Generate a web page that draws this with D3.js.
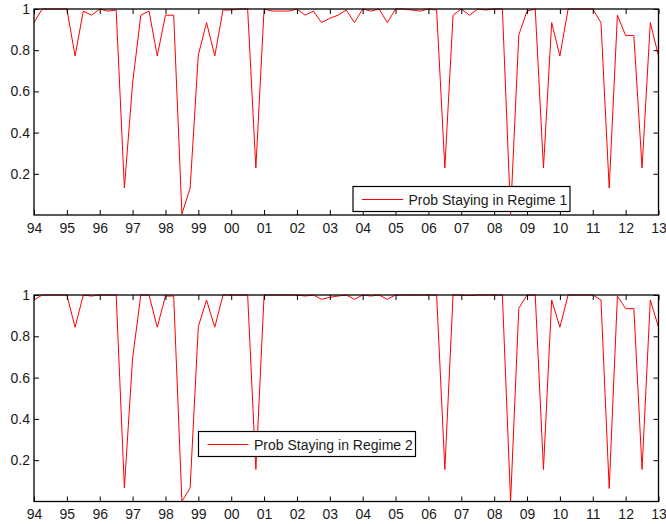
<!DOCTYPE html>
<html>
<head>
<meta charset="utf-8">
<script src="https://cdn.jsdelivr.net/npm/d3@7"></script>
<style>
  body { margin: 0; background: #fff; }
  svg { display: block; font-family: "Liberation Sans", Arial, sans-serif; }
</style>
</head>
<body>
<svg id="chart" width="666" height="524"></svg>
<script>
// quarterly observations, 1994Q1 .. 2013Q1
const startYear = 1994;
const yearTicks = d3.range(1994, 2014);
const yearLabels = ['94','95','96','97','98','99','00','01','02','03','04','05','06','07','08','09','10','11','12','13'];
const yTicks = [0.2, 0.4, 0.6, 0.8, 1];
const yLabels = ['0.2', '0.4', '0.6', '0.8', '1'];

const probStay1 = [
  0.934, 1, 1, 1,
  1, 0.772, 0.99, 0.97,
  1, 0.99, 0.995, 0.131,
  0.64, 0.97, 0.99, 0.772,
  0.97, 0.97, 0.005, 0.131,
  0.777, 0.934, 0.772, 0.995,
  0.995, 1, 1, 0.228,
  1, 0.99, 0.99, 0.99,
  1, 0.97, 0.99, 0.934,
  0.955, 0.97, 0.995, 0.934,
  1, 0.99, 1, 0.934,
  1, 1, 0.995, 0.99,
  1, 0.995, 0.228, 0.97,
  1, 0.97, 1, 0.995,
  1, 1, 0.005, 0.874,
  0.99, 1, 0.228, 0.934,
  0.772, 1, 1, 1,
  1, 0.934, 0.131, 0.97,
  0.871, 0.871, 0.228, 0.934,
  0.772
];
const probStay2 = [
  0.976, 1, 1, 1,
  1, 0.844, 1, 0.995,
  1, 1, 1, 0.066,
  0.694, 1, 1, 0.844,
  0.995, 0.995, 0.0, 0.066,
  0.847, 0.976, 0.844, 1,
  1, 1, 1, 0.155,
  1, 1, 1, 1,
  1, 0.995, 1, 0.979,
  0.989, 0.995, 1, 0.979,
  1, 0.995, 1, 0.979,
  1, 1, 1, 1,
  1, 1, 0.155, 1,
  1, 0.997, 1, 1,
  1, 1, 0.0, 0.936,
  1, 1, 0.155, 0.976,
  0.844, 1, 1, 1,
  1, 0.976, 0.063, 0.995,
  0.934, 0.934, 0.155, 0.976,
  0.844
];

const svg = d3.select('#chart');
svg.append('rect').attr('width', 666).attr('height', 524).attr('fill', '#fff');

const x = d3.scaleLinear().domain([1994, 2013]).range([34, 658.5]);

function panel(values, top, bottom, legendName, lg) {
  const y = d3.scaleLinear().domain([0, 1]).range([bottom, top]);
  const g = svg.append('g');
  const data = values.map((v, i) => ({ t: startYear + i / 4, v }));

  g.append('path').datum(data)
    .attr('fill', 'none').attr('stroke', '#ff0000').attr('stroke-width', 1)
    .attr('d', d3.line().x(d => x(d.t)).y(d => y(d.v)));

  const fmtX = d => yearLabels[yearTicks.indexOf(d)];
  const fmtY = d => yLabels[yTicks.indexOf(d)];

  const ax = (sel) => {
    sel.select('.domain').remove();
    sel.selectAll('.tick line').attr('stroke', '#000').attr('stroke-width', 1);
    sel.selectAll('.tick text').attr('fill', '#1a1a1a').attr('font-size', 14)
      .attr('font-family', '"Liberation Sans", Arial, sans-serif');
  };

  g.append('g').attr('transform', `translate(0,${bottom})`)
    .call(d3.axisBottom(x).tickValues(yearTicks).tickFormat(fmtX).tickSizeInner(-5).tickSizeOuter(0).tickPadding(8))
    .call(ax);
  g.append('g').attr('transform', `translate(0,${top})`)
    .call(d3.axisTop(x).tickValues(yearTicks).tickFormat('').tickSizeInner(-5).tickSizeOuter(0))
    .call(ax);
  g.append('g').attr('transform', `translate(${x.range()[0]},0)`)
    .call(d3.axisLeft(y).tickValues(yTicks).tickFormat(fmtY).tickSizeInner(-5).tickSizeOuter(0).tickPadding(4))
    .call(ax);
  g.append('g').attr('transform', `translate(${x.range()[1]},0)`)
    .call(d3.axisRight(y).tickValues(yTicks).tickFormat('').tickSizeInner(-5).tickSizeOuter(0))
    .call(ax);

  g.append('rect')
    .attr('x', x.range()[0]).attr('y', top)
    .attr('width', x.range()[1] - x.range()[0]).attr('height', bottom - top)
    .attr('fill', 'none').attr('stroke', '#000').attr('stroke-width', 1.3);

  // legend
  const L = g.append('g').attr('transform', `translate(${lg[0]},${lg[1]})`);
  L.append('rect').attr('width', 217).attr('height', 25)
    .attr('fill', '#fff').attr('stroke', '#000').attr('stroke-width', 1.2);
  L.append('line').attr('x1', 9).attr('x2', 50).attr('y1', 13).attr('y2', 13)
    .attr('stroke', '#ff0000').attr('stroke-width', 1);
  L.append('text').attr('x', 55.5).attr('y', 18).attr('font-size', 14)
    .attr('fill', '#1a1a1a').text(legendName);
}

panel(probStay1, 9, 215, 'Prob Staying in Regime 1', [353, 186.5]);
panel(probStay2, 295, 501.5, 'Prob Staying in Regime 2', [198.5, 431.5]);
</script>
</body>
</html>
